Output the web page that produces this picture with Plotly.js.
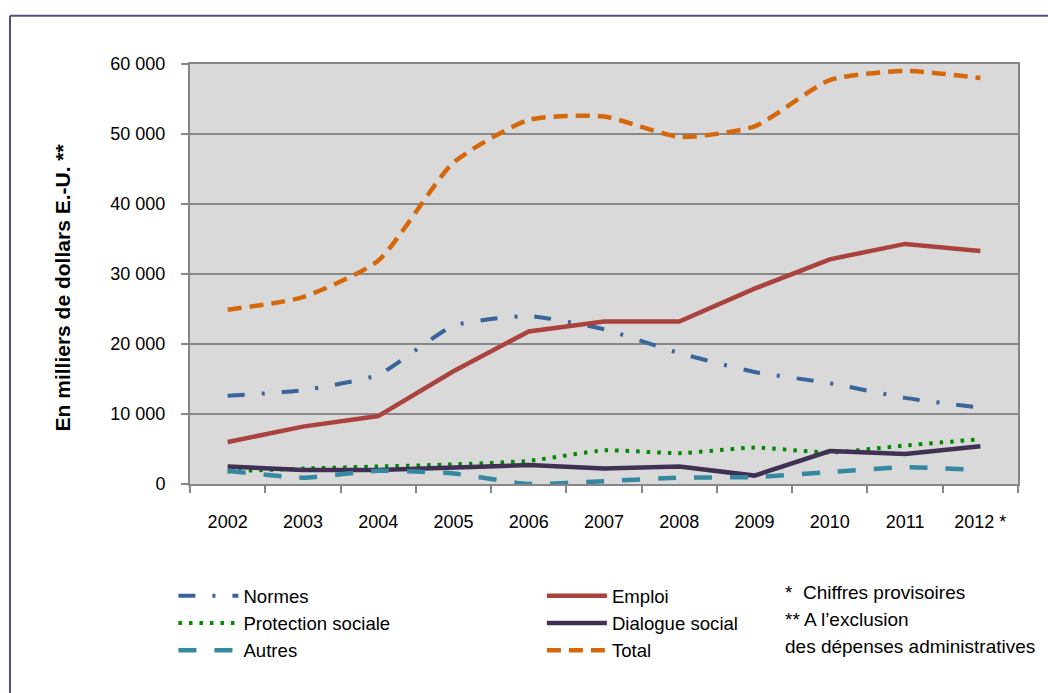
<!DOCTYPE html>
<html>
<head>
<meta charset="utf-8">
<script src="https://cdn.plot.ly/plotly-3.0.1.min.js"></script>
<style>
  html, body { margin: 0; padding: 0; background: #ffffff; }
  #chart { width: 1048px; height: 693px; }
</style>
</head>
<body>
<div id="chart"></div>
<script>
// Years (category axis)
const years = ["2002", "2003", "2004", "2005", "2006", "2007", "2008", "2009", "2010", "2011", "2012 *"];

// Values, in thousands of US dollars
const normes      = [12600, 13400, 15600, 22600, 24000, 22100, 18700, 16000, 14400, 12300, 10900];
const emploi      = [6000, 8200, 9700, 16100, 21800, 23200, 23200, 27900, 32100, 34300, 33300];
const protection  = [1800, 2200, 2500, 2800, 3300, 4800, 4400, 5200, 4500, 5500, 6400];
const dialogue    = [2500, 2000, 2000, 2400, 2700, 2200, 2500, 1200, 4700, 4300, 5400];
const autres      = [1900, 900, 1900, 1500, 0, 400, 900, 1000, 1700, 2400, 2000];
const total       = [24900, 26700, 31900, 45900, 52000, 52500, 49600, 51100, 57700, 59000, 58000];

const names = {
  normes: "Normes",
  emploi: "Emploi",
  protection: "Protection sociale",
  dialogue: "Dialogue social",
  autres: "Autres",
  total: "Total"
};

const notes = ["*\u00a0 Chiffres provisoires", "** A l\u2019exclusion", "des d\u00e9penses administratives"];
const yTitle = "En milliers de dollars E.-U. **";

const FONT = "Liberation Sans, Arial, sans-serif";

const traces = [
  { x: years, y: normes, name: names.normes, type: "scatter", mode: "lines",
    line: { color: "#3a659b", width: 4, dash: "17px,17px,3px,17px", shape: "spline", smoothing: 0.5 },
    legend: "legend" },
  { x: years, y: emploi, name: names.emploi, type: "scatter", mode: "lines",
    line: { color: "#aa423e", width: 4.5 },
    legend: "legend2" },
  { x: years, y: protection, name: names.protection, type: "scatter", mode: "lines",
    line: { color: "#008a00", width: 4, dash: "3.5px,7px", shape: "spline", smoothing: 0.5 },
    legend: "legend" },
  { x: years, y: dialogue, name: names.dialogue, type: "scatter", mode: "lines",
    line: { color: "#3f3054", width: 4.5 },
    legend: "legend2" },
  { x: years, y: autres, name: names.autres, type: "scatter", mode: "lines",
    line: { color: "#3489a1", width: 4.5, dash: "18px,18px", shape: "spline", smoothing: 0.5 },
    legend: "legend" },
  { x: years, y: total, name: names.total, type: "scatter", mode: "lines",
    line: { color: "#d4680b", width: 4.5, dash: "14px,8px", shape: "spline", smoothing: 0.6 },
    legend: "legend2" }
];

const annotations = notes.map((t, i) => ({
  text: t, xref: "paper", yref: "paper",
  x: 0.7165, y: -0.259 - i * 0.0645,
  xanchor: "left", yanchor: "middle", showarrow: false,
  font: { family: FONT, size: 19, color: "#000000" }
}));
// Y axis title, placed as a rotated text
annotations.push({
  text: yTitle, xref: "paper", yref: "paper",
  x: -0.1546, y: 0.468, textangle: -90,
  xanchor: "center", yanchor: "middle", showarrow: false,
  font: { family: FONT, size: 21, color: "#000000", weight: "bold" }
});

const legendCommon = {
  orientation: "v",
  font: { family: FONT, size: 18.6, color: "#000000" },
  bgcolor: "rgba(0,0,0,0)",
  borderwidth: 0,
  xanchor: "left", yanchor: "top",
  tracegroupgap: 0,
  itemwidth: 60,
  traceorder: "normal"
};

const layout = {
  width: 1048, height: 693,
  margin: { l: 190, r: 30, t: 64, b: 209 },
  paper_bgcolor: "#ffffff",
  plot_bgcolor: "#d9d9d9",
  separators: ", ",
  font: { family: FONT, size: 18, color: "#000000" },
  showlegend: true,
  xaxis: {
    type: "category",
    range: [-0.5, 10.5],
    tickson: "boundaries",
    ticks: "outside", ticklen: 7, tickcolor: "#868686", tickwidth: 2,
    showline: true, linecolor: "#868686", linewidth: 2, mirror: true,
    showgrid: false, zeroline: false,
    ticklabelstandoff: 20,
    tickfont: { family: FONT, size: 18, color: "#000000" },
    fixedrange: true
  },
  yaxis: {
    range: [0, 60000],
    tickvals: [0, 10000, 20000, 30000, 40000, 50000, 60000],
    tickformat: ",d",
    ticks: "outside", ticklen: 7, tickcolor: "#868686", tickwidth: 2,
    showline: true, linecolor: "#868686", linewidth: 2, mirror: true,
    showgrid: true, gridcolor: "#888888", gridwidth: 1.5,
    zeroline: false,
    ticklabelstandoff: 12,
    tickfont: { family: FONT, size: 18, color: "#000000" },
    fixedrange: true
  },
  legend: Object.assign({}, legendCommon, { x: -0.02, y: -0.222 }),
  legend2: Object.assign({}, legendCommon, { x: 0.425, y: -0.222 }),
  annotations: annotations,
  shapes: [
    { type: "line", xref: "paper", yref: "paper", x0: -0.2174, x1: -0.2174, y0: -0.6, y1: 1.1146,
      line: { color: "#5a4c7a", width: 2 } },
    { type: "line", xref: "paper", yref: "paper", x0: -0.2174, x1: 1.2, y0: 1.1146, y1: 1.1146,
      line: { color: "#5a4c7a", width: 2 } }
  ]
};

Plotly.newPlot("chart", traces, layout, { displayModeBar: false, staticPlot: true });
</script>
</body>
</html>
